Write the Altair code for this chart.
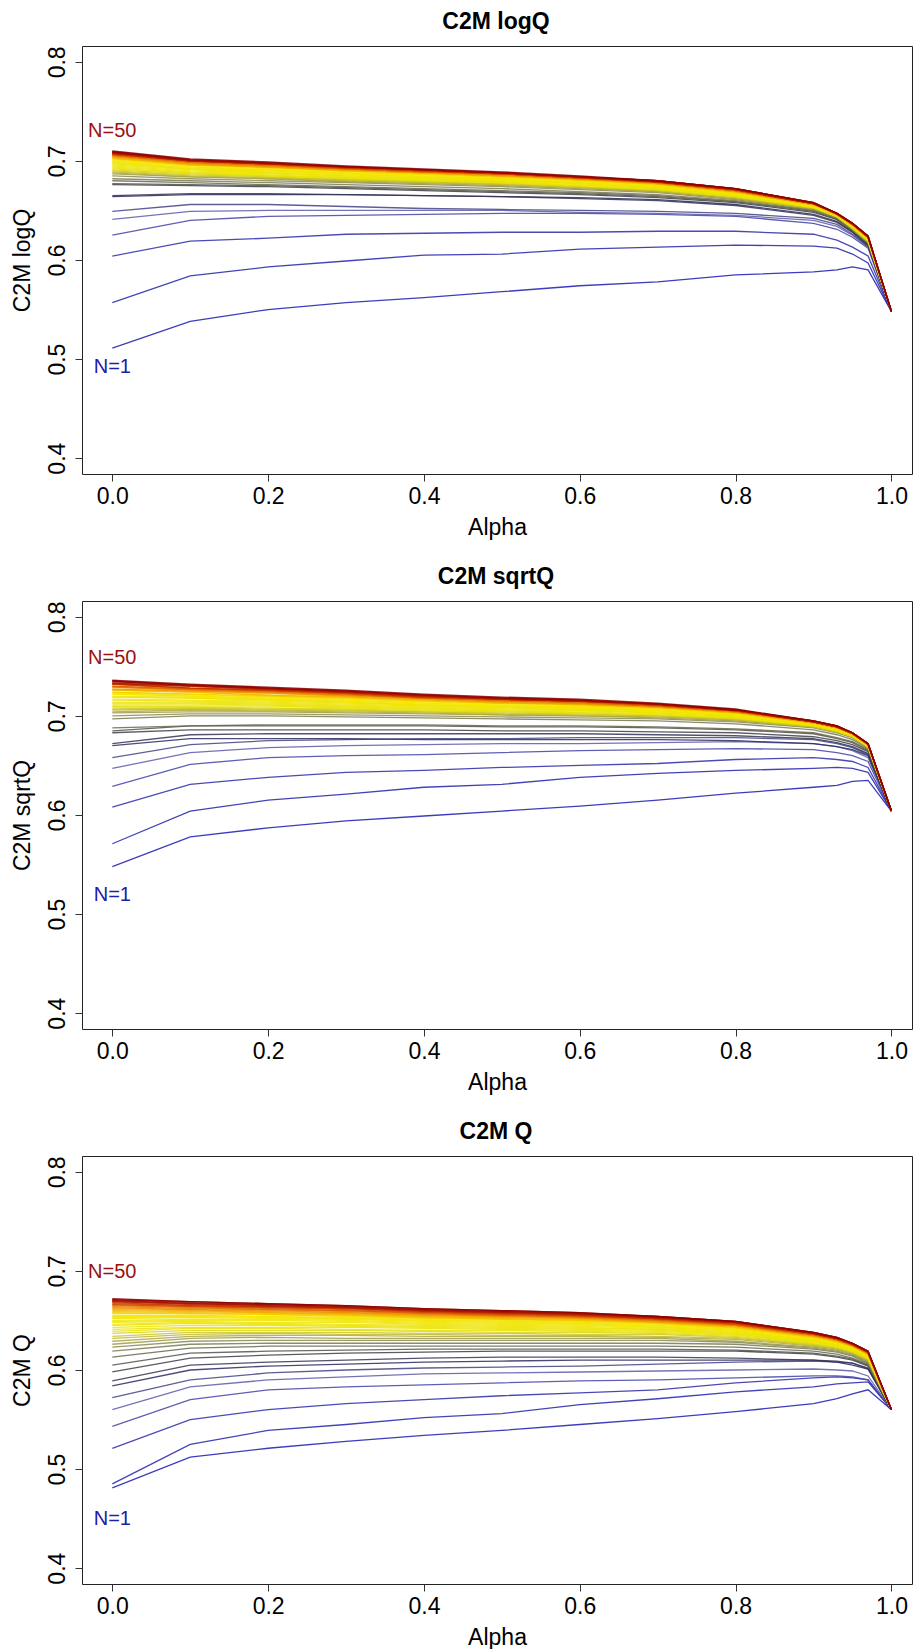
import altair as alt
import pandas as pd

FONT = "Liberation Sans, Arial, Helvetica, sans-serif"

ALPHA = [0.0, 0.1, 0.2, 0.3, 0.4, 0.5, 0.6, 0.7, 0.8, 0.9, 0.93, 0.95, 0.97, 1.0]
N_VALUES = list(range(1, 51))
X_TICKS = [0.0, 0.2, 0.4, 0.6, 0.8, 1.0]
Y_TICKS = [0.4, 0.5, 0.6, 0.7, 0.8]

# ---- C2M logQ (values in thousandths, N = 1..50, one list per alpha) ----
logq_a00 = [511,557,604,625,641,649,664,665,676,677,680,682,685,687,688,689,690,691,692,693,694,695,696,697,698,698,699,700,700,701,702,702,703,703,704,704,705,705,706,706,707,707,707,708,708,708,709,709,709,710]
logq_a10 = [538,584,619,640,649,656,666,667,675,676,678,680,682,684,684,685,686,687,688,688,689,690,691,692,692,692,693,694,694,695,696,696,696,696,697,697,698,698,699,699,700,700,700,700,700,700,701,701,701,702]
logq_a20 = [550,593,622,644,650,656,666,667,674,675,676,678,680,682,682,683,684,685,685,686,687,688,688,689,690,690,691,691,691,692,693,693,694,694,694,694,695,695,696,696,697,697,697,697,697,697,698,698,698,699]
logq_a30 = [557,599,626,645,650,654,666,666,672,673,674,676,678,679,680,681,681,682,683,683,684,685,685,686,687,687,688,688,688,689,690,690,690,690,691,691,692,692,692,692,693,693,693,694,694,694,694,694,694,695]
logq_a40 = [562,605,627,646,650,652,665,665,670,671,672,674,676,677,678,679,679,680,680,681,682,682,683,684,684,684,685,686,686,686,687,687,688,688,688,688,689,689,689,689,690,690,690,691,691,691,691,691,691,692]
logq_a50 = [568,606,628,647,650,651,664,664,668,669,670,672,674,675,676,676,677,678,678,679,679,680,681,681,682,682,682,683,683,684,684,684,685,685,685,685,686,686,687,687,687,687,687,688,688,688,688,688,688,689]
logq_a60 = [574,611,628,647,648,650,663,662,666,667,668,669,671,672,673,673,674,674,675,675,676,677,677,678,678,678,679,679,679,680,681,681,681,681,682,682,682,682,683,683,683,683,683,684,684,684,684,684,684,685]
logq_a70 = [578,613,629,646,647,649,661,660,663,664,665,666,668,669,669,670,670,671,671,672,672,673,673,674,674,674,675,675,675,676,676,676,677,677,677,677,678,678,678,678,679,679,679,679,679,679,680,680,680,680]
logq_a80 = [585,615,629,644,645,647,656,655,658,659,659,660,661,662,662,663,663,664,664,665,665,665,666,666,667,667,667,668,668,668,668,668,669,669,669,669,670,670,670,670,671,671,671,671,671,671,672,672,672,672]
logq_a90 = [588,614,626,637,640,642,646,645,648,649,650,650,651,652,652,652,652,653,653,653,654,654,654,654,655,655,655,655,655,655,656,656,656,656,656,656,657,657,657,657,657,657,657,657,657,657,658,658,658,658]
logq_a93 = [590,612,620,631,634,636,639,638,641,641,642,643,643,643,643,644,644,644,644,644,644,645,645,645,645,645,645,645,645,646,646,646,646,646,646,646,646,646,646,646,647,647,647,647,647,647,647,647,647,647]
logq_a95 = [593,606,613,623,625,626,628,628,629,630,630,631,631,631,632,632,632,632,633,633,633,633,634,634,634,634,634,635,635,635,635,635,635,635,636,636,636,636,636,636,636,636,636,637,637,637,637,637,637,637]
logq_a97 = [590,597,604,612,613,614,615,615,616,617,617,617,618,618,619,619,619,619,620,620,620,620,621,621,621,621,621,622,622,622,622,622,622,622,623,623,623,623,623,623,623,623,623,624,624,624,624,624,624,624]
logq_end = 548

# ---- C2M sqrtQ ----
sqrtq_a00 = [548,571,608,629,647,658,670,672,683,685,688,697,700,703,704,706,707,709,710,712,713,714,716,717,719,719,720,722,722,723,724,724,726,726,727,727,729,729,730,730,732,732,732,733,733,733,735,735,735,736]
sqrtq_a10 = [578,604,631,651,663,671,677,681,686,690,690,700,702,704,706,707,708,709,710,712,713,714,715,716,718,718,719,720,720,721,722,722,724,724,725,725,726,726,727,727,728,728,728,730,730,730,731,731,731,732]
sqrtq_a20 = [587,615,638,658,668,675,677,682,686,690,691,700,702,704,705,706,707,708,710,711,712,713,714,715,716,716,717,718,718,719,720,720,721,721,723,723,724,724,725,725,726,726,726,727,727,727,728,728,728,729]
sqrtq_a30 = [594,621,643,660,670,676,677,682,686,690,691,699,701,703,704,705,706,707,708,709,710,711,712,713,714,714,715,716,716,717,718,718,719,719,720,720,721,721,722,722,723,723,723,724,724,724,725,725,725,726]
sqrtq_a40 = [599,628,645,661,671,677,676,682,686,690,691,698,700,702,703,704,704,705,706,707,708,709,710,711,711,711,712,713,713,714,715,715,716,716,717,717,718,718,718,718,719,719,719,720,720,720,721,721,721,722]
sqrtq_a50 = [604,631,648,663,672,677,676,682,685,689,690,697,699,701,701,702,703,704,705,705,706,707,708,709,709,709,710,711,711,712,713,713,713,713,714,714,715,715,716,716,717,717,717,717,717,717,718,718,718,719]
sqrtq_a60 = [609,638,650,665,672,678,676,682,685,689,690,696,698,700,700,701,702,703,703,704,705,706,706,707,708,708,709,709,709,710,711,711,712,712,712,712,713,713,714,714,715,715,715,715,715,715,716,716,716,717]
sqrtq_a70 = [615,642,652,666,673,678,676,681,684,688,689,695,697,698,699,700,700,701,701,702,703,703,704,705,705,705,706,707,707,707,708,708,709,709,709,709,710,710,710,710,711,711,711,712,712,712,712,712,712,713]
sqrtq_a80 = [622,645,656,667,674,678,675,680,683,686,687,692,694,695,696,696,697,697,698,698,699,699,700,700,701,701,701,702,702,702,703,703,703,703,704,704,704,704,705,705,705,705,705,706,706,706,706,706,706,707]
sqrtq_a90 = [628,647,658,666,672,676,672,677,679,682,683,686,688,689,689,689,689,690,690,690,691,691,691,691,692,692,692,692,692,692,693,693,693,693,693,693,694,694,694,694,694,694,694,694,694,694,695,695,695,695]
sqrtq_a93 = [630,648,656,663,669,672,669,673,675,677,678,681,683,684,684,684,684,685,685,685,686,686,686,686,687,687,687,687,687,687,688,688,688,688,688,688,689,689,689,689,689,689,689,689,689,689,690,690,690,690]
sqrtq_a95 = [634,647,654,660,665,668,666,669,671,673,674,676,678,678,679,679,679,679,679,680,680,680,680,680,681,681,681,681,681,681,681,681,682,682,682,682,682,682,682,682,682,682,682,683,683,683,683,683,683,683]
sqrtq_a97 = [635,643,648,654,658,661,660,662,664,665,666,667,668,668,668,669,669,669,669,669,669,670,670,670,670,670,670,670,670,671,671,671,671,671,671,671,671,671,671,671,672,672,672,672,672,672,672,672,672,672]
sqrtq_end = 604

# ---- C2M Q ----
q_a00 = [481,485,521,543,560,572,584,589,598,605,613,619,623,626,629,632,634,637,639,641,643,645,646,648,649,650,652,653,654,655,657,658,659,660,661,662,663,664,665,666,666,667,668,669,669,670,670,671,671,672]
q_a10 = [512,525,550,570,583,590,600,605,612,617,622,626,629,632,634,636,638,640,642,643,645,647,648,649,650,651,653,654,655,655,657,657,658,659,660,661,661,662,663,664,664,665,665,666,667,667,667,668,669,669]
q_a20 = [521,539,560,580,590,597,604,608,615,619,624,627,630,633,635,637,638,640,642,643,645,646,647,648,650,651,652,653,654,654,656,656,657,658,658,659,660,661,661,662,663,663,664,664,665,665,666,666,667,667]
q_a30 = [528,545,566,583,593,600,606,610,617,620,624,627,630,632,635,636,638,640,641,643,644,645,646,648,649,650,651,652,652,653,654,655,656,656,657,658,658,659,660,660,661,662,662,663,663,663,664,664,665,665]
q_a40 = [534,552,570,585,596,602,608,612,618,621,624,627,630,632,634,636,637,639,640,642,643,644,645,646,647,648,649,650,650,651,652,653,653,654,655,655,656,657,657,658,658,659,659,660,660,660,661,661,662,662]
q_a50 = [539,556,574,587,597,603,609,613,619,621,624,627,630,632,634,635,637,638,640,641,642,643,644,645,646,647,648,649,649,650,651,651,652,652,653,654,654,655,655,656,656,657,657,658,658,658,659,659,660,660]
q_a60 = [545,565,577,589,598,604,610,613,619,621,624,627,630,632,634,635,636,638,639,640,641,642,643,644,645,646,647,647,648,648,649,650,650,651,652,652,653,653,654,654,655,655,655,656,656,657,657,657,658,658]
q_a70 = [551,571,580,590,599,606,610,613,619,621,624,627,630,632,633,634,636,637,638,639,640,641,641,642,643,643,644,645,645,646,647,647,648,648,648,649,649,650,650,651,651,652,652,652,653,653,653,654,654,654]
q_a80 = [558,578,587,592,600,608,610,612,619,620,623,626,628,629,631,632,633,634,635,636,636,637,638,638,639,640,640,641,641,642,642,643,643,644,644,645,645,645,646,646,646,647,647,648,648,648,648,649,649,649]
q_a90 = [566,583,592,594,601,609,610,610,616,617,619,621,622,623,624,625,626,626,627,628,628,629,630,630,630,631,631,632,632,633,633,633,634,634,634,635,635,635,636,636,636,636,637,637,637,637,637,638,638,638]
q_a93 = [571,586,593,594,600,608,608,609,613,614,616,618,619,620,621,622,622,623,623,624,625,625,626,626,626,627,627,628,628,628,629,629,629,629,630,630,630,631,631,631,631,632,632,632,632,632,632,633,633,633]
q_a95 = [576,587,592,593,599,607,605,607,610,611,612,614,615,616,617,617,618,618,619,619,620,620,621,621,621,622,622,622,623,623,623,624,624,624,624,624,625,625,625,625,626,626,626,626,626,626,627,627,627,627]
q_a97 = [580,588,590,590,594,601,601,602,604,605,606,607,608,609,609,610,611,611,612,612,612,613,613,614,614,614,614,615,615,615,616,616,616,616,616,617,617,617,617,618,618,618,618,618,618,618,619,619,619,619]
q_end = 560

# label positions (value axis)
LABEL_Y = {
    "logq": (0.730, 0.492),
    "sqrtq": (0.758, 0.519),
    "q": (0.699, 0.450),
}

COLOR_STOPS = [1, 3, 5, 7, 9, 11, 13, 16, 19, 30, 36, 43, 50]
COLOR_RANGE = ["#1a1ab0", "#2a2aa8", "#5a5aa8", "#2a2a60", "#3e3e48", "#66664e",
               "#8a8a50", "#c0b830", "#e8e200", "#f5e600", "#f0a000", "#cc3300", "#8b0000"]

PLOT_W = 830
PLOT_H = 428
X_DOMAIN = [-0.0389, 1.0264]
Y_DOMAIN = [0.384, 0.816]


def build(cols, end):
    rows = []
    for a, col in zip(ALPHA[:-1], cols):
        for n, v in zip(N_VALUES, col):
            rows.append({"alpha": a, "N": n, "value": v / 1000.0})
    for n in N_VALUES:
        rows.append({"alpha": 1.0, "N": n, "value": end / 1000.0})
    return pd.DataFrame(rows).sort_values(["N", "alpha"]).reset_index(drop=True)


def panel(df, title, ytitle, label_y):
    xscale = alt.Scale(domain=X_DOMAIN, nice=False, zero=False)
    yscale = alt.Scale(domain=Y_DOMAIN, nice=False, zero=False)
    xaxis = alt.Axis(values=X_TICKS, format=".1f", title="Alpha", labelPadding=22,
                     labelBaseline="alphabetic", titleY=60, titleBaseline="alphabetic")
    yaxis = alt.Axis(values=Y_TICKS, format=".1f", title=ytitle, labelAngle=270,
                     labelAlign="center", labelBaseline="alphabetic", labelPadding=11,
                     titleAngle=270, titleX=-53, titleY=PLOT_H / 2, titleAlign="center",
                     titleBaseline="alphabetic")
    lines = alt.Chart(df).mark_line(strokeWidth=1.3, opacity=0.85).encode(
        x=alt.X("alpha:Q", scale=xscale, axis=xaxis),
        y=alt.Y("value:Q", scale=yscale, axis=yaxis),
        color=alt.Color("N:Q", scale=alt.Scale(domain=COLOR_STOPS, range=COLOR_RANGE,
                                                interpolate="rgb"), legend=None),
        order=alt.Order("alpha:Q"),
    )
    lab = pd.DataFrame({
        "alpha": [0.0, 0.0],
        "value": [label_y[0], label_y[1]],
        "label": ["N=50", "N=1"],
        "col": ["#9b1010", "#2020a0"],
    })
    labels = alt.Chart(lab).mark_text(fontSize=20, font=FONT, align="center",
                                      baseline="middle").encode(
        x=alt.X("alpha:Q", scale=xscale),
        y=alt.Y("value:Q", scale=yscale),
        text="label:N",
        color=alt.Color("col:N", scale=None),
    )
    head = alt.Chart(pd.DataFrame({"t": [title]})).mark_text(
        fontSize=23, fontWeight="bold", font=FONT, align="center",
        baseline="alphabetic", color="#000"
    ).encode(x=alt.value(PLOT_W / 2 - 1), y=alt.value(-17), text="t:N")
    return alt.layer(lines, labels, head).properties(width=PLOT_W, height=PLOT_H)


df_logq = build([logq_a00, logq_a10, logq_a20, logq_a30, logq_a40, logq_a50, logq_a60,
                 logq_a70, logq_a80, logq_a90, logq_a93, logq_a95, logq_a97], logq_end)
df_sqrtq = build([sqrtq_a00, sqrtq_a10, sqrtq_a20, sqrtq_a30, sqrtq_a40, sqrtq_a50, sqrtq_a60,
                  sqrtq_a70, sqrtq_a80, sqrtq_a90, sqrtq_a93, sqrtq_a95, sqrtq_a97], sqrtq_end)
df_q = build([q_a00, q_a10, q_a20, q_a30, q_a40, q_a50, q_a60,
              q_a70, q_a80, q_a90, q_a93, q_a95, q_a97], q_end)

p1 = panel(df_logq, "C2M logQ", "C2M logQ", LABEL_Y["logq"])
p2 = panel(df_sqrtq, "C2M sqrtQ", "C2M sqrtQ", LABEL_Y["sqrtq"])
p3 = panel(df_q, "C2M Q", "C2M Q", LABEL_Y["q"])

chart = alt.vconcat(p1, p2, p3, spacing=127, bounds="flush").properties(
    padding={"left": 2, "top": 2, "right": 0, "bottom": 0}
).configure_view(
    stroke="#222", strokeWidth=1
).configure_axis(
    labelFont=FONT, titleFont=FONT, labelFontSize=23, titleFontSize=23,
    titleFontWeight="normal", labelColor="#000", titleColor="#000",
    tickColor="#333", tickSize=7, domain=False, grid=False,
    labelFlush=False, labelOverlap=False,
)

chart.save("out.html", embed_options={"renderer": "svg", "actions": False})
